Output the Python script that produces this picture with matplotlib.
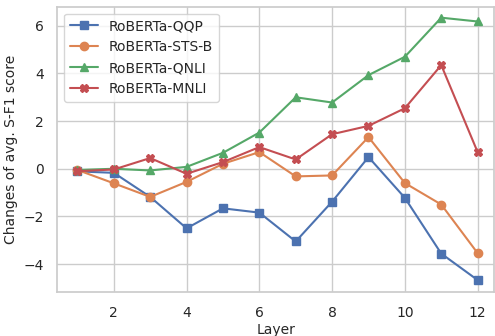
import matplotlib
matplotlib.use("Agg")
import matplotlib.pyplot as plt
import seaborn as sns

sns.set_theme(style="whitegrid")

layers = list(range(1, 13))
qqp = [-0.11, -0.17, -1.18, -2.5, -1.66, -1.84, -3.05, -1.38, 0.49, -1.22, -3.56, -4.67]
stsb = [-0.05, -0.61, -1.18, -0.55, 0.21, 0.7, -0.32, -0.28, 1.33, -0.6, -1.5, -3.54]
qnli = [-0.05, 0.0, -0.07, 0.08, 0.67, 1.52, 3.0, 2.78, 3.93, 4.7, 6.34, 6.18]
mnli = [-0.1, -0.03, 0.45, -0.21, 0.28, 0.91, 0.39, 1.45, 1.8, 2.54, 4.35, 0.7]

series = [
    ("RoBERTa-QQP", qqp, "s"),
    ("RoBERTa-STS-B", stsb, "o"),
    ("RoBERTa-QNLI", qnli, "^"),
    ("RoBERTa-MNLI", mnli, "X"),
]
colors = sns.color_palette("deep")

fig, ax = plt.subplots(figsize=(4.95, 3.36), dpi=100)
for i, (name, vals, m) in enumerate(series):
    ax.plot(layers, vals, marker=m, color=colors[i], label=name,
            linewidth=1.5, markersize=6)

ax.set_xlabel("Layer", fontsize=10, labelpad=2)
ax.set_ylabel("Changes of avg. S-F1 score", fontsize=10)
ax.set_xticks([2, 4, 6, 8, 10, 12])
ax.set_yticks([-4, -2, 0, 2, 4, 6])
ax.tick_params(labelsize=10)
ax.tick_params(axis="x", pad=4)
ax.set_xlim(0.45, 12.45)
ax.set_ylim(-5.17, 6.8)
ax.legend(loc="upper left", fontsize=10)

plt.subplots_adjust(left=0.116, right=0.998, top=0.98, bottom=0.131)
plt.savefig("out.png")
